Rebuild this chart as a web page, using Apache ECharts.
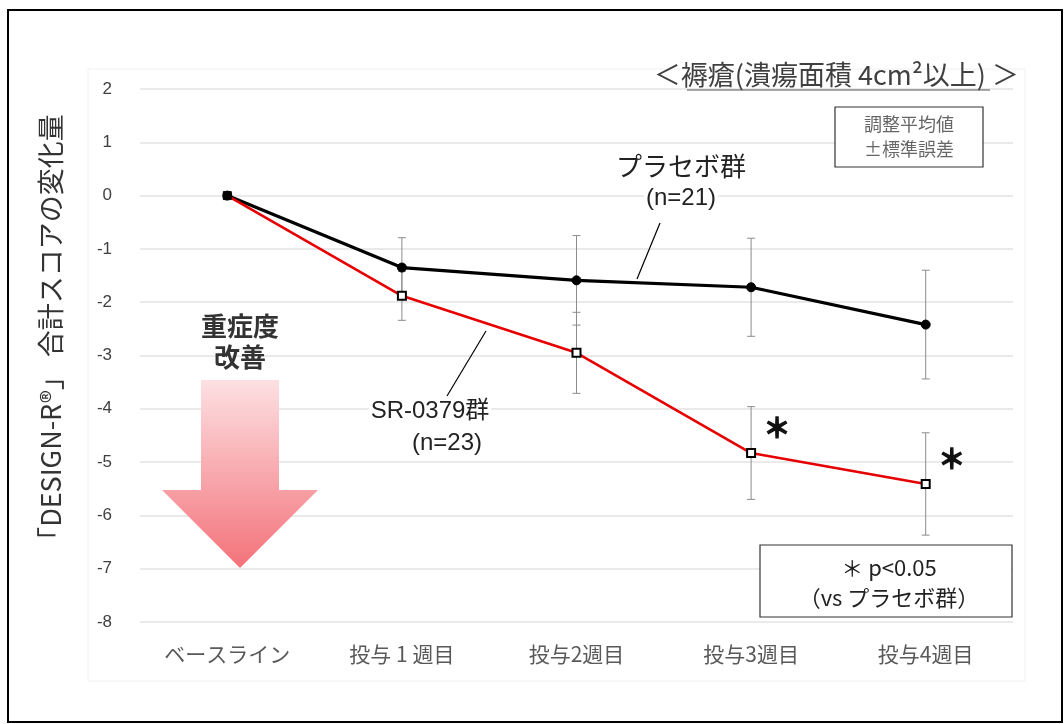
<!DOCTYPE html>
<html><head><meta charset="utf-8">
<script src="https://cdn.jsdelivr.net/npm/echarts@6/dist/echarts.min.js"></script>
<style>html,body{margin:0;padding:0;background:#fff}#c{width:1064px;height:724px}</style>
</head><body><div id="c"></div>
<script>
const categories = ['ベースライン', '投与 1 週目', '投与2週目', '投与3週目', '投与4週目'];
const placeboMean = [0, -1.35, -1.59, -1.72, -2.42];
const placeboSE = [0, 0.56, 0.84, 0.92, 1.02];
const srMean = [0, -1.88, -2.95, -4.83, -5.41];
const srSE = [0, 0.46, 0.76, 0.87, 0.96];
const yTicks = [-8, -7, -6, -5, -4, -3, -2, -1, 0, 1, 2];
const sigMarks = [null, null, null, '＊', '＊'];

const JP = '"Noto Sans CJK JP", "Liberation Sans", sans-serif';
const SANS = '"Liberation Sans", "Noto Sans CJK JP", sans-serif';

const chart = echarts.init(document.getElementById('c'), null, {renderer: 'canvas'});

function errData(mean, se) {
  return mean.map((m, i) => [i, m - se[i], m + se[i]]);
}
function errRender(params, api) {
  const i = api.value(0);
  if (api.value(2) - api.value(1) === 0) return null;
  const lo = api.coord([i, api.value(1)]);
  const hi = api.coord([i, api.value(2)]);
  const w = 4;
  const st = {stroke: '#8c8c8c', lineWidth: 1};
  return {type: 'group', children: [
    {type: 'line', shape: {x1: lo[0], y1: lo[1], x2: hi[0], y2: hi[1]}, style: st},
    {type: 'line', shape: {x1: lo[0]-w, y1: lo[1], x2: lo[0]+w, y2: lo[1]}, style: st},
    {type: 'line', shape: {x1: hi[0]-w, y1: hi[1], x2: hi[0]+w, y2: hi[1]}, style: st}
  ]};
}

const option = {
  animation: false,
  backgroundColor: '#fff',
  grid: {left: 140, right: 51, top: 89, bottom: 102},
  xAxis: {
    type: 'category', data: categories, boundaryGap: true,
    axisLine: {show: false}, axisTick: {show: false},
    axisLabel: {color: '#595959', fontSize: 21, fontFamily: JP, margin: 22}
  },
  yAxis: {
    type: 'value', min: yTicks[0], max: yTicks[yTicks.length-1], interval: 1,
    axisLine: {show: false}, axisTick: {show: false},
    splitLine: {lineStyle: {color: '#e3e3e3', width: 1.5}},
    axisLabel: {color: '#404040', fontSize: 17, fontFamily: SANS, margin: 28}
  },
  series: [
    {type: 'custom', name: 'placeboErr', data: errData(placeboMean, placeboSE), renderItem: errRender, z: 1, silent: true},
    {type: 'custom', name: 'srErr', data: errData(srMean, srSE), renderItem: errRender, z: 1, silent: true},
    {type: 'line', name: 'プラセボ群', data: placeboMean, z: 3,
      lineStyle: {color: '#000', width: 3.2}, symbol: 'circle', symbolSize: 9,
      itemStyle: {color: '#000', borderColor: '#000'}},
    {type: 'line', name: 'SR-0379群', data: srMean.map((v, i) => ({
        value: v,
        symbol: 'rect',
        itemStyle: i === 0 ? {color: '#000', borderColor: '#000'} : {color: '#fff', borderColor: '#000', borderWidth: 2},
        label: sigMarks[i] ? {show: true, formatter: sigMarks[i]} : {show: false}
      })), z: 4,
      lineStyle: {color: '#e60000', width: 2.6}, symbolSize: 8,
      label: {position: 'inside', offset: [26, -25], color: '#111', fontSize: 27, fontFamily: JP, fontWeight: 'bold',
        textBorderColor: '#111', textBorderWidth: 1.3, verticalAlign: 'middle', align: 'center'}
    }
  ],
  graphic: [
    {type: 'rect', z: 100, shape: {x: 8, y: 10, width: 1054, height: 712}, style: {fill: 'none', stroke: '#000', lineWidth: 2}},
    {type: 'rect', z: 0, shape: {x: 88, y: 69, width: 937, height: 612}, style: {fill: 'none', stroke: '#f0f0f0', lineWidth: 1}},
    // y axis name
    {type: 'text', z: 100, x: 51, y: 334, rotation: Math.PI / 2, style: {text: '「DESIGN-R®」 合計スコアの変化量', fill: '#333', font: '27px ' + JP, align: 'center', verticalAlign: 'middle'}},
    // title
    {type: 'text', z: 100, x: 1019, y: 75, style: {text: '＜褥瘡(潰瘍面積 4cm²以上) ＞', fill: '#404040', font: '27px ' + JP, align: 'right', verticalAlign: 'middle'}},
    {type: 'line', z: 100, shape: {x1: 687, y1: 90, x2: 990, y2: 90}, style: {stroke: '#555', lineWidth: 1.2}},
    // SE box
    {type: 'rect', z: 100, shape: {x: 835, y: 107, width: 148, height: 60}, style: {fill: '#fff', stroke: '#333', lineWidth: 1.2}},
    {type: 'text', z: 101, x: 909, y: 137, style: {text: '調整平均値\n±標準誤差', fill: '#666', font: '18px ' + JP, align: 'center', verticalAlign: 'middle', lineHeight: 25}},
    // group labels
    {type: 'text', z: 100, x: 681, y: 166, style: {text: 'プラセボ群', fill: '#222', font: '26px ' + JP, align: 'center', verticalAlign: 'middle', backgroundColor: '#fff'}},
    {type: 'text', z: 100, x: 681, y: 198, style: {text: '(n=21)', fill: '#222', font: '24px ' + SANS, align: 'center', verticalAlign: 'middle', backgroundColor: '#fff', padding: [0, 2]}},
    {type: 'line', z: 100, shape: {x1: 660, y1: 223, x2: 637, y2: 279}, style: {stroke: '#000', lineWidth: 1.2}},
    {type: 'text', z: 100, x: 430, y: 411, style: {text: 'SR-0379群', fill: '#222', font: '24px ' + SANS, align: 'center', verticalAlign: 'middle', backgroundColor: '#fff', padding: [0, 2]}},
    {type: 'text', z: 100, x: 447, y: 443, style: {text: '(n=23)', fill: '#222', font: '24px ' + SANS, align: 'center', verticalAlign: 'middle', backgroundColor: '#fff', padding: [0, 2]}},
    {type: 'line', z: 100, shape: {x1: 486, y1: 331, x2: 447, y2: 396}, style: {stroke: '#000', lineWidth: 1.2}},
    // p box
    {type: 'rect', z: 100, shape: {x: 760, y: 545, width: 252, height: 72}, style: {fill: '#fff', stroke: '#333', lineWidth: 1.2}},
    {type: 'text', z: 101, x: 889, y: 568, style: {text: '＊ p<0.05', fill: '#222', font: '22px ' + JP, align: 'center', verticalAlign: 'middle'}},
    {type: 'text', z: 101, x: 889, y: 598, style: {text: '（vs プラセボ群）', fill: '#222', font: '22px ' + JP, align: 'center', verticalAlign: 'middle'}},
    // arrow
    {type: 'text', z: 100, x: 240, y: 342, style: {text: '重症度\n改善', fill: '#333', font: 'bold 26px ' + JP, align: 'center', verticalAlign: 'middle', lineHeight: 31}},
    {type: 'polygon', z: 100, shape: {points: [[201, 380], [279, 380], [279, 490], [318, 490], [240, 568], [162, 490], [201, 490]]},
      style: {fill: new echarts.graphic.LinearGradient(0, 0, 0, 1, [{offset: 0, color: '#fde0e2'}, {offset: 1, color: '#f3727a'}])}}
  ]
};
chart.setOption(option);
</script>
</body></html>
